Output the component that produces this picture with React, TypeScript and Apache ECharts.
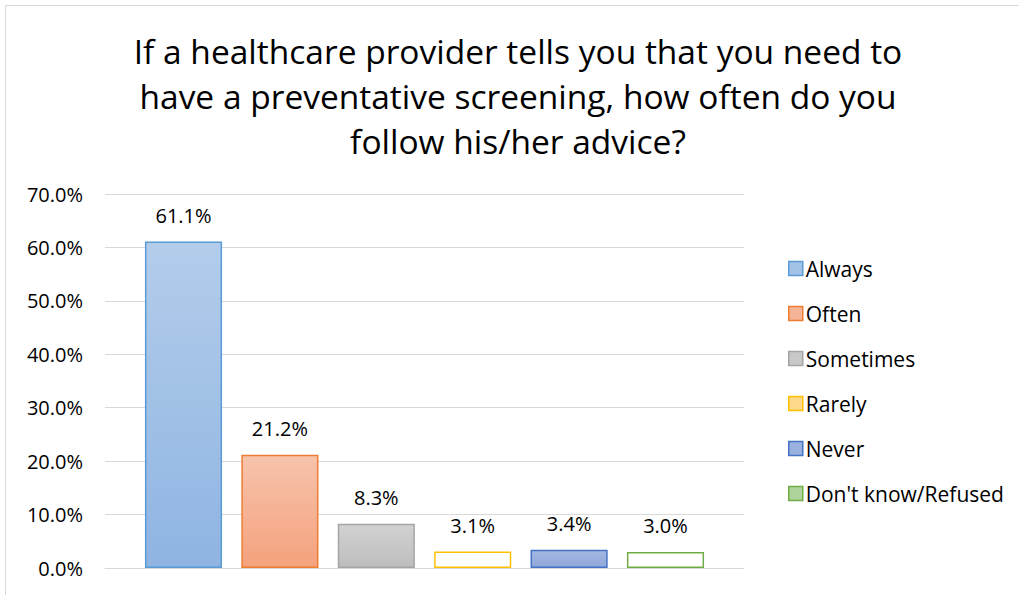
import React, { useEffect, useRef } from "react";
import * as echarts from "echarts";

const titleText =
  "If a healthcare provider tells you that you need to\nhave a preventative screening, how often do you\nfollow his/her advice?";
const categories = ["Response"];
const seriesNames = ["Always", "Often", "Sometimes", "Rarely", "Never", "Don't know/Refused"];
const seriesValues = [61.1, 21.2, 8.3, 3.1, 3.4, 3.0];
const yTicks = { min: 0, max: 70, interval: 10 };

const FONT = "'Open Sans', Lato, sans-serif";

const borderColors = ["#5B9BD5", "#ED7D31", "#A5A5A5", "#FFC000", "#4472C4", "#70AD47"];
const topFills = ["#B3CDEB", "#F7C3AC", "#D2D2D2", "#FFFFFF", "#A6B8E2", "#FFFFFF"];
const bottomFills = ["#8FB4E2", "#F4A27D", "#BDBDBD", "#FFFFFF", "#8FA7DA", "#FFFFFF"];
const legendFills = ["#A3C2E8", "#F5B497", "#C8C8C8", "#FFD98A", "#9AB0DE", "#AED39B"];

export default function App() {
  const ref = useRef<HTMLDivElement>(null);
  useEffect(() => {
    if (!ref.current) return;
    const chart = echarts.init(ref.current, undefined, { renderer: "svg" });
    const series = seriesNames.map((name, i) => ({
      name,
      type: "bar",
      data: [seriesValues[i]],
      barGap: "25%",
      barCategoryGap: "12.5%",
      itemStyle: {
        color: new echarts.graphic.LinearGradient(0, 0, 0, 1, [
          { offset: 0, color: topFills[i] },
          { offset: 1, color: bottomFills[i] },
        ]),
        borderColor: borderColors[i],
        borderWidth: 1.5,
      },
      label: {
        show: true,
        position: "top",
        distance: 16,
        formatter: (p: any) => p.value.toFixed(1) + "%",
        color: "#000",
        fontFamily: FONT,
        fontSize: 20,
      },
    }));
    chart.setOption({
      animation: false,
      backgroundColor: "#fff",
      graphic: [
        {
          type: "rect",
          shape: { x: 5.5, y: 5.5, width: 1100, height: 700 },
          style: { fill: "none", stroke: "#D9D9D9", lineWidth: 1 },
          silent: true,
        },
      ],
      title: {
        text: titleText,
        left: 513,
        top: 23,
        textAlign: "center",
        textStyle: {
          fontFamily: FONT,
          fontSize: 33.5,
          fontWeight: "normal",
          color: "#000",
          lineHeight: 45,
        },
      },
      legend: {
        orient: "vertical",
        left: 783,
        top: 253,
        itemWidth: 14,
        itemHeight: 14,
        itemGap: 24,
        icon: "rect",
        textStyle: { fontFamily: FONT, fontSize: 21, color: "#000", padding: [0, 0, 0, -2] },
        data: seriesNames.map((name, i) => ({
          name,
          itemStyle: { color: legendFills[i], borderColor: borderColors[i], borderWidth: 1.5 },
        })),
      },
      grid: { left: 105, right: 275, top: 194, bottom: 27, containLabel: false },
      xAxis: {
        type: "category",
        data: categories,
        axisLine: { show: true, lineStyle: { color: "#D9D9D9", width: 1 } },
        axisTick: { show: false },
        axisLabel: { show: false },
      },
      yAxis: {
        type: "value",
        min: yTicks.min,
        max: yTicks.max,
        interval: yTicks.interval,
        axisLine: { show: false },
        axisTick: { show: false },
        splitLine: { lineStyle: { color: "#D9D9D9", width: 1 } },
        axisLabel: {
          formatter: (v: number) => v.toFixed(1) + "%",
          fontFamily: FONT,
          fontSize: 20,
          color: "#000",
          margin: 22,
        },
      },
      series,
    });
    return () => chart.dispose();
  }, []);
  return (
    <div
      ref={ref}
      style={{ position: "absolute", left: 0, top: 0, width: 1019, height: 595 }}
    />
  );
}
